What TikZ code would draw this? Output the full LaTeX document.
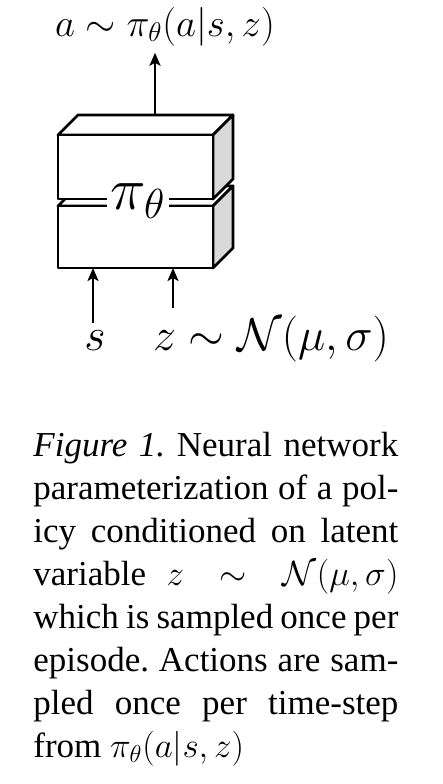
\documentclass[tikz,border=0pt]{standalone}
\usepackage{fix-cm}
\usepackage{amsmath}
\usepackage{amssymb}
\usepackage{fontspec}
\setmainfont{Liberation Serif}
\usepackage{xcolor}
\usepackage{tikz}
\usetikzlibrary{arrows.meta}

\definecolor{sidegray}{gray}{0.85}

\tikzset{
    face/.style={draw, line width=1.4pt, line join=round, fill=white},
    side/.style={face, fill=sidegray},
    arr/.style={-{Stealth[length=6.5pt, width=5.5pt, inset=1.5pt]}, line width=1.1pt},
}

\begin{document}
\begin{tikzpicture}[x=0.5pt, y=-0.5pt]
    \useasboundingbox (0,0) rectangle (443,784);

    % lower block
    \draw[face] (58,206) -- (78,186) -- (233,186) -- (213,206) -- cycle;
    \draw[side] (213,206) -- (233,186) -- (233,248) -- (213,268) -- cycle;
    \draw[face] (58,206) rectangle (213,268);
    % upper block
    \draw[face] (58,135) -- (78,115) -- (233,115) -- (213,135) -- cycle;
    \draw[side] (213,135) -- (233,115) -- (233,179) -- (213,199) -- cycle;
    \draw[face] (58,135) rectangle (213,199);

    \node[fill=white, inner sep=2pt, font=\fontsize{30}{33}\selectfont] (pol) at (138,201) {$\pi_\theta$};

    \coordinate (out) at (155,115);
    \coordinate (ins) at (93,268);
    \coordinate (inz) at (173,268);

    \node[anchor=base, font=\fontsize{19.4}{23}\selectfont] (act) at (165,36) {$a \sim \pi_\theta(a|s,z)$};
    \node[anchor=base, font=\fontsize{23}{27}\selectfont] (s) at (95,350) {$s$};
    \node[anchor=base, font=\fontsize{23}{27}\selectfont] (dist) at (271,350) {$z \sim \mathcal{N}(\mu,\sigma)$};

    \draw[arr] (out) -- (out |- act.south);
    \draw[arr] (ins |- s.north) -- (ins);
    \draw[arr] (inz |- dist.north) -- (inz);

    \node[anchor=north west, inner sep=0pt, text width=182.5pt, align=justify,
          font=\fontsize{17.5}{21.5}\selectfont] (cap) at (33,432)
        {\frenchspacing\hyphenpenalty=10000 \textit{Figure 1.} Neural network\linebreak
         parameterization of a pol-\linebreak
         icy conditioned on latent\linebreak
         variable $z \sim \mathcal{N}(\mu,\sigma)$\linebreak
         which is sampled once per\linebreak
         episode. Actions are sam-\linebreak
         pled once per time-step\linebreak
         from $\pi_\theta(a|s,z)$};
\end{tikzpicture}
\end{document}
